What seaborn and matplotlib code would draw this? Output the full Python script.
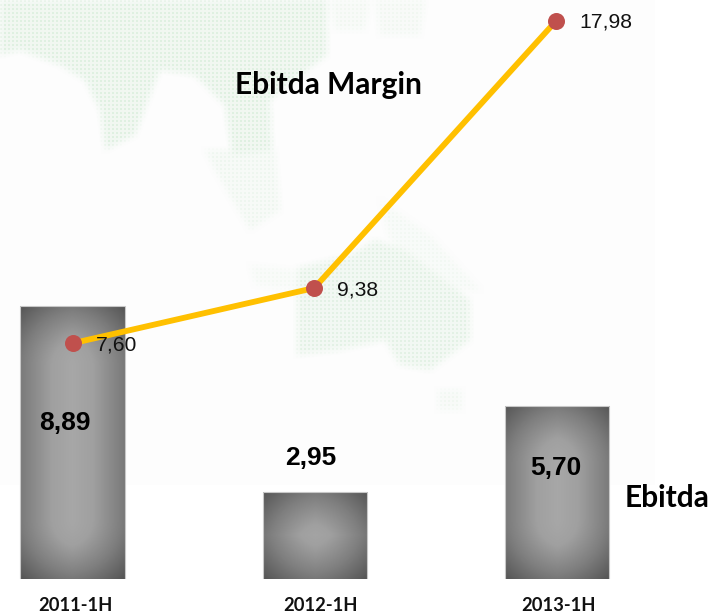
import numpy as np
import pandas as pd
import matplotlib
matplotlib.use("Agg")
import matplotlib.pyplot as plt
from matplotlib.colors import LinearSegmentedColormap
from matplotlib.path import Path
from matplotlib.transforms import Affine2D
import seaborn as sns

# ---- data ----
periods = ["2011-1H", "2012-1H", "2013-1H"]
ebitda = [8.89, 2.95, 5.70]
margin = [7.60, 9.38, 17.98]
ebitda_labels = ["8,89", "2,95", "5,70"]
margin_labels = ["7,60", "9,38", "17,98"]

# ---- faint background map: rough land shapes in picture pixels, with a strength ----
land_shapes = [
    (1.0, [(0,0),(327,0),(327,55),(300,75),(270,100),(272,150),(232,155),(225,105),(195,75),(160,70),
           (150,95),(135,135),(105,150),(100,110),(85,80),(60,65),(20,50),(0,55)]),
    (0.5, [(205,150),(275,150),(280,210),(250,230),(215,170)]),
    (0.4, [(375,0),(425,0),(420,35),(380,35)]),
    (0.4, [(330,0),(370,0),(365,30),(335,30)]),
    (0.3, [(250,265),(295,270),(295,290),(255,285)]),
    (0.35, [(380,200),(430,235),(480,290),(440,290),(390,240)]),
    (0.85, [(297,268),(350,255),(375,240),(405,250),(470,300),(470,340),(430,370),(400,365),(385,340),(340,350),(297,355)]),
    (0.4, [(438,390),(462,390),(462,410),(438,410)]),
]

sns.set_theme(style="white", rc={"axes.facecolor": "none", "figure.facecolor": "white"})
plt.rcParams["font.family"] = ["Liberation Sans", "DejaVu Sans"]

W, H = 712, 614
fig = plt.figure(figsize=(W / 100, H / 100), dpi=100)

# background map as a full-figure layer
bg = fig.add_axes([0, 0, 1, 1], zorder=0)
bg.set_axis_off()
yy, xx = np.mgrid[0:H, 0:W]
pts = np.column_stack([xx.ravel() + .5, yy.ravel() + .5])
strength = np.zeros(H * W)
for level, poly in land_shapes:
    strength = np.maximum(strength, level * Path(poly).contains_points(pts))
strength = strength.reshape(H, W)
kernel = np.ones(9) / 9
strength = np.apply_along_axis(lambda r: np.convolve(r, kernel, mode="same"), 0, strength)
strength = np.apply_along_axis(lambda r: np.convolve(r, kernel, mode="same"), 1, strength)
dots = ((xx % 4) < 2) & ((yy % 4) < 2)
img = np.full((H, W, 3), 255.0)
img[(xx < 655) & (yy < 485)] = 253
ink = np.where(dots, 1.0, 0.4) * strength
img[..., 0] -= 30 * ink
img[..., 1] -= 13 * ink
img[..., 2] -= 28 * ink
bg.imshow(img.astype(np.uint8), extent=(0, W, H, 0), aspect="auto", interpolation="bilinear")

df = pd.DataFrame({"period": periods, "ebitda": ebitda, "margin": margin})

# bars
BAR_XLIM = (-72.5 / 242.2, (W - 72.5) / 242.2)
BAR_YLIM = (0.17, 0.17 + 579 / 31.3)
ax = fig.add_axes([0, 35 / H, 1, 579 / H], zorder=1)
sns.barplot(data=df, x="period", y="ebitda", width=0.43, color="#888888", ax=ax, saturation=1)
ax.set_xlabel("")
ax.set_ylabel("")
ax.set_yticks([])
sns.despine(ax=ax, left=True, bottom=True)
ax.tick_params(axis="x", length=0, pad=13)
for lab, shift in zip(ax.get_xticklabels(), [3, 6, 2]):
    lab.set_fontfamily("Lato")
    lab.set_fontweight("bold")
    lab.set_fontsize(13.2)
    lab.set_color("#111111")
    lab.set_transform(lab.get_transform() + Affine2D().translate(shift, 0))

# gradient inside each bar: dark at the edges, light along the centre
cmap = LinearSegmentedColormap.from_list("g", ["#aaaaaa", "#a0a0a0", "#7e7e7e", "#555555"])
px_x, px_y = 242.2, 31.3
for patch in list(ax.patches):
    patch.set_edgecolor("#c8c8c8")
    patch.set_linewidth(0.8)
    x0, y0, w, h = patch.get_x(), patch.get_y(), patch.get_width(), patch.get_height()
    n_x, n_y = int(w * px_x), int((y0 + h - BAR_YLIM[0]) * px_y)
    v, u = np.mgrid[-1:1:complex(n_y), -1:1:complex(n_x)]
    dx = (1 - np.abs(u)) * n_x / 2
    dy = (1 - np.abs(v)) * n_y / 2
    a = np.clip(1 - dx / 60, 0, 1)
    b = np.clip(1 - dy / 60, 0, 1)
    grad = np.sqrt(a ** 2 + b ** 2) / np.sqrt(2)
    im = ax.imshow(grad, cmap=cmap, vmin=0, vmax=1, extent=(x0, x0 + w, BAR_YLIM[0], y0 + h),
                   aspect="auto", zorder=2)
    im.set_clip_path(patch)
    patch.set_zorder(3)
    patch.set_facecolor("none")
ax.set_xlim(*BAR_XLIM)
ax.set_ylim(*BAR_YLIM)

# bar labels
for i, t in enumerate(ebitda_labels):
    ax.text(i + [-0.033, -0.018, -0.006][i], [5.16, 4.03, 3.72][i], t, ha="center", va="center",
            fontsize=19, fontweight="bold", color="black", zorder=5)

# line on its own scale
ax2 = fig.add_axes([0, 35 / H, 1, 579 / H], zorder=2)
ax2.patch.set_alpha(0)
sns.lineplot(data=df, x="period", y="margin", color="#ffc000", linewidth=4.2, ax=ax2, legend=False, zorder=3)
sns.scatterplot(data=df, x="period", y="margin", color="#c0504d", s=150, linewidth=0, ax=ax2, legend=False, zorder=4)
ax2.set_xlim(-72.5 / 241.75, (W - 72.5) / 241.75)
ax2.set_ylim(0.009, 18.656)
ax2.set_axis_off()
for i, t in enumerate(margin_labels):
    ax2.annotate(t, (i, margin[i]), xytext=(23, -1.5), textcoords="offset pixels", ha="left", va="center",
                 fontsize=15.2, color="#111111", zorder=5)

# series names
fig.text(235 / W, 1 - 85 / H, "Ebitda Margin", family="Lato", fontweight="bold", fontsize=21.5, va="center", color="black", zorder=6)
fig.text(625 / W, 1 - 498 / H, "Ebitda", family="Lato", fontweight="bold", fontsize=21.5, va="center", color="black", zorder=6)

fig.savefig("out.png", dpi=100)
